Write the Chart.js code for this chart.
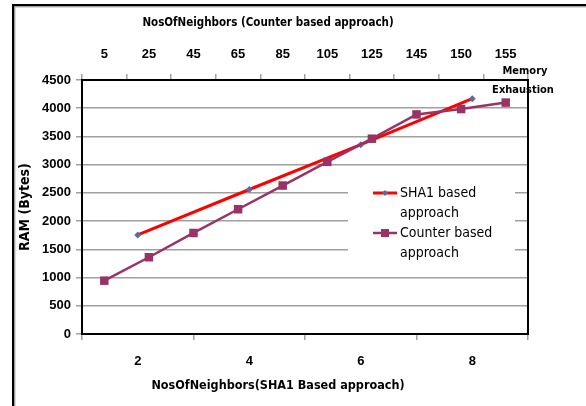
<!DOCTYPE html>
<html>
<head>
<meta charset="utf-8">
<script src="https://cdn.jsdelivr.net/npm/chart.js@4/dist/chart.umd.min.js"></script>
<style>
html,body{margin:0;padding:0;background:#fff;overflow:hidden;}
#c{display:block;}
</style>
</head>
<body>
<canvas id="c" width="586" height="406"></canvas>
<script>
// ---- data ----
const sha1Labels = ['2', '4', '6', '8'];
const sha1Values = [1755, 2560, 3355, 4170];
const counterLabels = ['5', '25', '45', '65', '85', '105', '125', '145', '150', '155'];
const counterValues = [945, 1360, 1790, 2210, 2630, 3050, 3460, 3890, 3985, 4100];
const yTitle = 'RAM (Bytes)';
const topTitle = 'NosOfNeighbors (Counter based approach)';
const bottomTitle = 'NosOfNeighbors(SHA1 Based approach)';
const seriesNames = [['SHA1 based', 'approach'], ['Counter based', 'approach']];
const noteLines = ['Memory', 'Exhaustion'];

const NARROW = "'Liberation Sans Narrow', 'Arial Narrow', 'DejaVu Sans Condensed', sans-serif";
const SANS = "'Liberation Sans', Arial, sans-serif";
const RED = '#ff0000';
const PLUM = '#993366';
const BLUE = '#5a6aa8';
const GRID = '#a0a0a0';

const decor = {
  id: 'decor',
  beforeDraw(chart) {
    const ctx = chart.ctx;
    ctx.save();
    ctx.fillStyle = '#fff';
    ctx.fillRect(0, 0, chart.width, chart.height);
    // outer frame
    ctx.fillStyle = '#000';
    ctx.fillRect(12, 4, chart.width - 12, 2.5);
    ctx.fillRect(12, 4, 2.5, chart.height - 4);
    ctx.fillStyle = '#bbb';
    ctx.fillRect(14.5, 6.5, chart.width - 14.5, 1);
    ctx.fillRect(14.5, 6.5, 1, chart.height - 6.5);
    ctx.restore();
  },
  beforeDatasetsDraw(chart) {
    const ctx = chart.ctx;
    const a = chart.chartArea;
    ctx.save();
    // legend box
    ctx.fillStyle = '#fff';
    ctx.fillRect(348, 172, 167, 92);
    // plot frame
    ctx.strokeStyle = '#000';
    ctx.lineWidth = 2;
    ctx.strokeRect(a.left, a.top, a.right - a.left, a.bottom - a.top);
    ctx.restore();
  },
  afterDraw(chart) {
    const ctx = chart.ctx;
    ctx.save();
    ctx.fillStyle = '#000';
    ctx.textBaseline = 'middle';
    ctx.textAlign = 'center';
    // axis titles (not centred on the plot in the original)
    ctx.font = 'bold 11.5px ' + NARROW;
    ctx.fillText(topTitle, 268, 23);
    ctx.font = 'bold 12.5px ' + NARROW;
    ctx.fillText(bottomTitle, 278, 386);
    // legend entries
    const sx0 = 373, sx1 = 397, tx = 400;
    const rows = [193, 233];
    ctx.textAlign = 'left';
    ctx.font = '14px ' + NARROW;
    ctx.strokeStyle = RED; ctx.lineWidth = 3;
    ctx.beginPath(); ctx.moveTo(sx0, rows[0]); ctx.lineTo(sx1, rows[0]); ctx.stroke();
    ctx.fillStyle = BLUE;
    ctx.beginPath();
    ctx.moveTo(385, rows[0] - 3); ctx.lineTo(388, rows[0]); ctx.lineTo(385, rows[0] + 3); ctx.lineTo(382, rows[0]);
    ctx.closePath(); ctx.fill();
    ctx.strokeStyle = PLUM; ctx.lineWidth = 2.5;
    ctx.beginPath(); ctx.moveTo(sx0, rows[1]); ctx.lineTo(sx1, rows[1]); ctx.stroke();
    ctx.fillStyle = PLUM;
    ctx.fillRect(381, rows[1] - 4, 8, 8);
    ctx.fillStyle = '#000';
    seriesNames.forEach((lines, i) => {
      lines.forEach((t, j) => ctx.fillText(t, tx, rows[i] + j * 20));
    });
    // memory exhaustion note
    ctx.font = 'bold 11px ' + NARROW;
    ctx.textAlign = 'center';
    ctx.fillText(noteLines[0], 525, 71);
    ctx.fillText(noteLines[1], 523, 90);
    ctx.restore();
  }
};

const tickFont = { family: SANS, size: 13, weight: 'bold' };
const yTitleFont = { family: NARROW, size: 14, weight: 'bold' };

new Chart(document.getElementById('c'), {
  type: 'line',
  data: {
    datasets: [
      {
        label: seriesNames[0].join(' '),
        data: sha1Values,
        xAxisID: 'x',
        yAxisID: 'y',
        borderColor: RED,
        borderWidth: 3,
        pointStyle: 'rectRot',
        pointRadius: 3.5,
        pointBackgroundColor: BLUE,
        pointBorderColor: BLUE,
        pointBorderWidth: 0,
        tension: 0,
        order: 2
      },
      {
        label: seriesNames[1].join(' '),
        data: counterValues,
        xAxisID: 'x2',
        yAxisID: 'y',
        borderColor: PLUM,
        borderWidth: 2.5,
        pointStyle: 'rect',
        pointRadius: 6,
        pointBackgroundColor: PLUM,
        pointBorderColor: PLUM,
        pointBorderWidth: 0,
        tension: 0,
        order: 1
      }
    ]
  },
  options: {
    responsive: false,
    animation: false,
    devicePixelRatio: 1,
    layout: { padding: { left: 14, top: 6, right: 58, bottom: 0 } },
    plugins: { legend: { display: false }, tooltip: { enabled: false } },
    scales: {
      y: {
        position: 'left',
        min: 0, max: 4500,
        ticks: { stepSize: 500, color: '#000', font: tickFont, padding: 5, callback: v => String(v) },
        grid: { color: GRID, lineWidth: 1.5, tickLength: 6, tickColor: GRID },
        border: { display: false },
        title: { display: true, text: yTitle, color: '#000', font: yTitleFont, padding: { top: 3, bottom: 0 } },
        afterFit(s) { s.width = 68; }
      },
      x: {
        type: 'category',
        position: 'bottom',
        labels: sha1Labels,
        offset: true,
        ticks: { color: '#000', font: tickFont, padding: 14, maxRotation: 0, autoSkip: false },
        grid: { drawOnChartArea: false, offset: true, tickLength: 6, color: GRID, lineWidth: 1.5 },
        border: { display: false },
        title: { display: false },
        afterFit(s) { s.height = 72; }
      },
      x2: {
        type: 'category',
        position: 'top',
        labels: counterLabels,
        offset: true,
        ticks: { color: '#000', font: tickFont, padding: 12, maxRotation: 0, autoSkip: false },
        grid: { drawOnChartArea: false, offset: true, tickLength: 6, color: GRID, lineWidth: 1.5 },
        border: { display: false },
        title: { display: false },
        afterFit(s) { s.height = 74; }
      }
    }
  },
  plugins: [decor]
});
</script>
</body>
</html>
